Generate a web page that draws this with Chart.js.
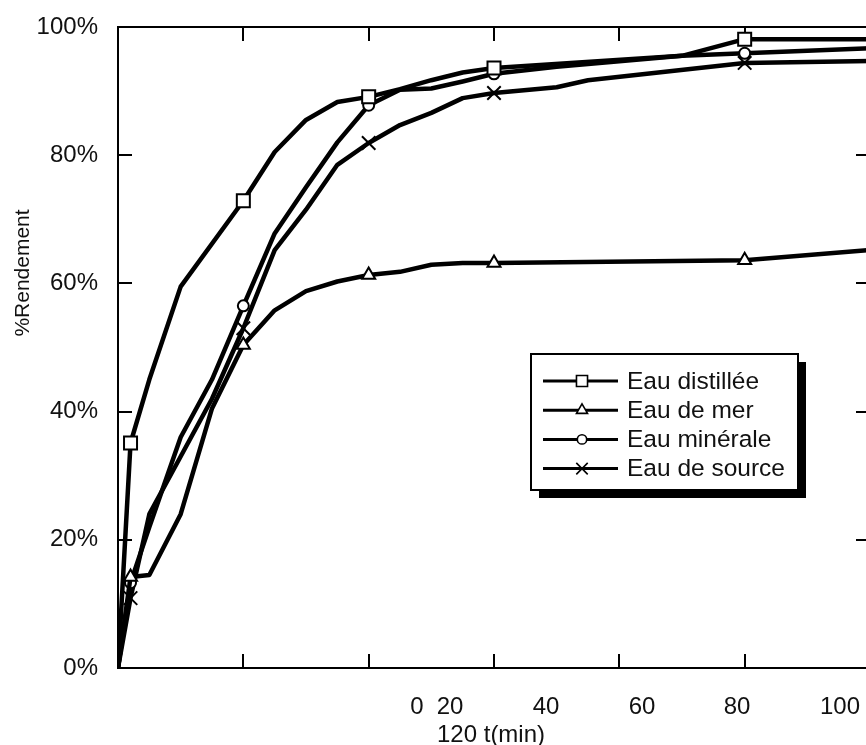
<!DOCTYPE html>
<html>
<head>
<meta charset="utf-8">
<script src="https://cdn.jsdelivr.net/npm/chart.js@4/dist/chart.umd.min.js"></script>
<style>
  html, body { margin: 0; padding: 0; background: #fff; overflow: hidden; width: 866px; height: 745px; }
  canvas { display: block; }
</style>
</head>
<body>
<canvas id="chart" width="880" height="745"></canvas>
<script>
// Rendement (%) en fonction du temps (min) pour quatre types d'eau
const seriesNames = ['Eau distillée', 'Eau de mer', 'Eau minérale', 'Eau de source'];

const tDistillee = [0, 2, 5, 10, 20, 25, 30, 35, 40, 45, 50, 55, 60, 90, 100, 120];
const distillee  = [0, 35.1, 45, 59.5, 72.9, 80.5, 85.5, 88.3, 89.1, 90.3, 91.7, 92.9, 93.6, 95.5, 98.1, 98.1];

const tMer = [0, 2, 5, 10, 15, 20, 25, 30, 35, 40, 45, 50, 55, 60, 100, 120];
const mer  = [0, 14.2, 14.5, 24, 40.5, 50.4, 55.8, 58.8, 60.3, 61.3, 61.8, 62.9, 63.2, 63.2, 63.6, 65.2];

const tMinerale = [0, 2, 5, 10, 15, 20, 25, 30, 35, 40, 45, 50, 55, 60, 70, 90, 100, 120];
const minerale  = [0, 13.3, 22, 36, 45, 56.5, 67.8, 75, 82, 87.8, 90.2, 90.4, 91.5, 92.7, 93.8, 95.5, 95.9, 96.7];

const tSource = [0, 2, 5, 10, 15, 20, 25, 30, 35, 40, 45, 50, 55, 60, 70, 75, 100, 120];
const source  = [0, 10.9, 24, 33, 42, 53, 65.2, 71.5, 78.5, 81.9, 84.7, 86.6, 88.9, 89.7, 90.6, 91.7, 94.4, 94.7];

// Instants de mesure repérés par un symbole
const markerTimes = [2, 20, 40, 60, 100];

const xTickLabels = ['0', '20', '40', '60', '80', '100', '120'];
const xTitle = 't(min)';
const yTitle = '%Rendement';

const FONT = '"Liberation Sans", Arial, Helvetica, sans-serif';
const INK = '#111';

function pairs(ts, vs) { return ts.map((t, i) => ({ x: t, y: vs[i] })); }

function makeSet(label, ts, vs, style, radius) {
  return {
    label,
    data: pairs(ts, vs),
    borderColor: '#000',
    borderWidth: 4.5,
    backgroundColor: '#fff',
    tension: 0,
    pointStyle: style,
    pointBackgroundColor: '#fff',
    pointBorderColor: '#000',
    pointBorderWidth: 2,
    pointRadius: ctx => (ctx.raw && markerTimes.includes(ctx.raw.x)) ? radius : 0,
    pointHoverRadius: 0,
    markerRadius: radius
  };
}

// Cadre fermé avec graduations tournées vers l'intérieur
const framePlugin = {
  id: 'frame',
  beforeDatasetsDraw(chart) {
    const { ctx, chartArea: a, scales: { x, y } } = chart;
    ctx.save();
    ctx.strokeStyle = '#000';
    ctx.lineWidth = 2;
    ctx.strokeRect(a.left, a.top, a.right - a.left, a.bottom - a.top);
    const len = 14;
    ctx.beginPath();
    x.ticks.forEach(t => {
      if (t.value <= x.min || t.value >= x.max) return;
      const px = Math.round(x.getPixelForValue(t.value));
      ctx.moveTo(px, a.bottom); ctx.lineTo(px, a.bottom - len);
      ctx.moveTo(px, a.top); ctx.lineTo(px, a.top + len);
    });
    y.ticks.forEach(t => {
      if (t.value <= y.min || t.value >= y.max) return;
      const py = Math.round(y.getPixelForValue(t.value));
      ctx.moveTo(a.left, py); ctx.lineTo(a.left + len, py);
      ctx.moveTo(a.right, py); ctx.lineTo(a.right - len, py);
    });
    ctx.stroke();
    ctx.restore();
  }
};

// Textes de l'axe des temps et titre vertical
const textPlugin = {
  id: 'axisText',
  afterDraw(chart) {
    const { ctx } = chart;
    ctx.save();
    ctx.fillStyle = INK;
    ctx.font = '24px ' + FONT;
    ctx.textBaseline = 'middle';
    ctx.textAlign = 'center';
    const centers = [417, 450, 546, 642, 737, 840];
    centers.forEach((cx, i) => ctx.fillText(xTickLabels[i], cx, 707));
    ctx.textAlign = 'left';
    ctx.fillText(xTickLabels[6] + ' ' + xTitle, 437, 735);

    ctx.font = '21px ' + FONT;
    ctx.translate(23, 273);
    ctx.rotate(-Math.PI / 2);
    ctx.textAlign = 'center';
    ctx.fillText(yTitle, 0, 0);
    ctx.restore();
  }
};

// Légende encadrée avec ombre portée
const boxLegend = {
  id: 'boxLegend',
  afterDraw(chart) {
    const { ctx } = chart;
    const bx = 531, by = 354, bw = 267, bh = 136, sh = 8;
    ctx.save();
    ctx.fillStyle = '#000';
    ctx.fillRect(bx + sh, by + sh, bw, bh);
    ctx.fillStyle = '#fff';
    ctx.fillRect(bx, by, bw, bh);
    ctx.strokeStyle = '#000';
    ctx.lineWidth = 2;
    ctx.strokeRect(bx, by, bw, bh);

    const rowY0 = 381, rowStep = 29.2;
    chart.data.datasets.forEach((ds, i) => {
      const yy = rowY0 + i * rowStep;
      ctx.strokeStyle = '#000';
      ctx.lineWidth = 3;
      ctx.beginPath();
      ctx.moveTo(543, yy); ctx.lineTo(618, yy);
      ctx.stroke();
      ctx.fillStyle = '#fff';
      ctx.strokeStyle = '#000';
      ctx.lineWidth = 1.6;
      Chart.helpers.drawPoint(ctx, {
        pointStyle: ds.pointStyle,
        radius: ds.markerRadius * 0.85,
        rotation: 0,
        borderWidth: 1.6
      }, 582, yy);
      ctx.fillStyle = INK;
      ctx.font = '24.5px ' + FONT;
      ctx.textAlign = 'left';
      ctx.textBaseline = 'middle';
      ctx.fillText(ds.label, 627, yy + 1);
    });
    ctx.restore();
  }
};

new Chart(document.getElementById('chart'), {
  type: 'line',
  data: {
    datasets: [
      makeSet(seriesNames[0], tDistillee, distillee, 'rect', 9.2),
      makeSet(seriesNames[1], tMer, mer, 'triangle', 7.5),
      makeSet(seriesNames[2], tMinerale, minerale, 'circle', 5.5),
      makeSet(seriesNames[3], tSource, source, 'crossRot', 9.5)
    ]
  },
  options: {
    responsive: false,
    animation: false,
    devicePixelRatio: 1,
    layout: { padding: { top: 27, right: 10, bottom: 77, left: 0 } },
    plugins: { legend: { display: false }, tooltip: { enabled: false } },
    elements: { line: { borderJoinStyle: 'round', borderCapStyle: 'round' } },
    scales: {
      x: {
        type: 'linear',
        display: false,
        min: 0,
        max: 120,
        ticks: { stepSize: 20 }
      },
      y: {
        type: 'linear',
        min: 0,
        max: 100,
        grid: { display: false, drawTicks: false },
        border: { display: false },
        ticks: {
          stepSize: 20,
          padding: 20,
          color: INK,
          font: { family: FONT, size: 24 },
          callback: v => v + '%'
        },
        afterFit: s => {
          s.width = 118;
          s.paddingTop = 0;
          s.paddingBottom = 0;
        }
      }
    }
  },
  plugins: [framePlugin, textPlugin, boxLegend]
});
</script>
</body>
</html>
